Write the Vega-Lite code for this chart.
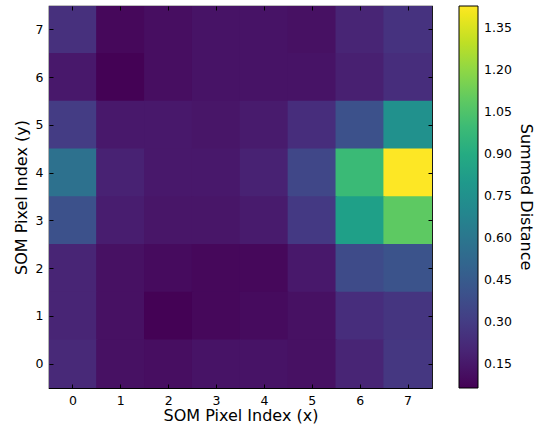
{
  "$schema": "https://vega.github.io/schema/vega-lite/v6.json",
  "autosize": "none",
  "width": 383,
  "height": 382,
  "padding": {"left": 49, "top": 6, "right": 104, "bottom": 41},
  "background": "white",
  "config": {
    "font": "DejaVu Sans",
    "view": {"stroke": "black", "strokeWidth": 1.2},
    "axis": {"labelFont": "DejaVu Sans", "titleFont": "DejaVu Sans", "labelFontSize": 12.5, "titleFontSize": 16, "titleFontWeight": "normal", "labelColor": "black", "titleColor": "black", "tickColor": "black", "domain": false, "grid": false, "tickSize": -4, "labelPadding": 10}
  },
  "data": {"values": [
    {"x": 0, "y": 7, "v": 0.25}, {"x": 1, "y": 7, "v": 0.09}, {"x": 2, "y": 7, "v": 0.11}, {"x": 3, "y": 7, "v": 0.13}, {"x": 4, "y": 7, "v": 0.13}, {"x": 5, "y": 7, "v": 0.12}, {"x": 6, "y": 7, "v": 0.2}, {"x": 7, "y": 7, "v": 0.26},
    {"x": 0, "y": 6, "v": 0.15}, {"x": 1, "y": 6, "v": 0.07}, {"x": 2, "y": 6, "v": 0.11}, {"x": 3, "y": 6, "v": 0.13}, {"x": 4, "y": 6, "v": 0.13}, {"x": 5, "y": 6, "v": 0.13}, {"x": 6, "y": 6, "v": 0.18}, {"x": 7, "y": 6, "v": 0.24},
    {"x": 0, "y": 5, "v": 0.3}, {"x": 1, "y": 5, "v": 0.15}, {"x": 2, "y": 5, "v": 0.15}, {"x": 3, "y": 5, "v": 0.14}, {"x": 4, "y": 5, "v": 0.16}, {"x": 5, "y": 5, "v": 0.24}, {"x": 6, "y": 5, "v": 0.4}, {"x": 7, "y": 5, "v": 0.75},
    {"x": 0, "y": 4, "v": 0.57}, {"x": 1, "y": 4, "v": 0.19}, {"x": 2, "y": 4, "v": 0.15}, {"x": 3, "y": 4, "v": 0.15}, {"x": 4, "y": 4, "v": 0.19}, {"x": 5, "y": 4, "v": 0.35}, {"x": 6, "y": 4, "v": 0.99}, {"x": 7, "y": 4, "v": 1.43},
    {"x": 0, "y": 3, "v": 0.4}, {"x": 1, "y": 3, "v": 0.17}, {"x": 2, "y": 3, "v": 0.14}, {"x": 3, "y": 3, "v": 0.14}, {"x": 4, "y": 3, "v": 0.16}, {"x": 5, "y": 3, "v": 0.29}, {"x": 6, "y": 3, "v": 0.84}, {"x": 7, "y": 3, "v": 1.09},
    {"x": 0, "y": 2, "v": 0.2}, {"x": 1, "y": 2, "v": 0.12}, {"x": 2, "y": 2, "v": 0.1}, {"x": 3, "y": 2, "v": 0.09}, {"x": 4, "y": 2, "v": 0.09}, {"x": 5, "y": 2, "v": 0.15}, {"x": 6, "y": 2, "v": 0.37}, {"x": 7, "y": 2, "v": 0.41},
    {"x": 0, "y": 1, "v": 0.2}, {"x": 1, "y": 1, "v": 0.12}, {"x": 2, "y": 1, "v": 0.07}, {"x": 3, "y": 1, "v": 0.09}, {"x": 4, "y": 1, "v": 0.1}, {"x": 5, "y": 1, "v": 0.12}, {"x": 6, "y": 1, "v": 0.24}, {"x": 7, "y": 1, "v": 0.27},
    {"x": 0, "y": 0, "v": 0.22}, {"x": 1, "y": 0, "v": 0.12}, {"x": 2, "y": 0, "v": 0.11}, {"x": 3, "y": 0, "v": 0.13}, {"x": 4, "y": 0, "v": 0.13}, {"x": 5, "y": 0, "v": 0.12}, {"x": 6, "y": 0, "v": 0.2}, {"x": 7, "y": 0, "v": 0.28}
  ]},
  "layer": [
    {
      "mark": {"type": "rect", "width": {"band": 1.03}, "height": {"band": 1.03}, "clip": true},
      "encoding": {
        "x": {"field": "x", "type": "ordinal", "scale": {"paddingInner": 0, "paddingOuter": 0}, "axis": {"title": "SOM Pixel Index (x)", "labelAngle": 0, "orient": "bottom", "titlePadding": 1}},
        "y": {"field": "y", "type": "ordinal", "sort": "descending", "scale": {"paddingInner": 0, "paddingOuter": 0}, "axis": {"title": "SOM Pixel Index (y)", "orient": "left", "titlePadding": 6}},
        "color": {
          "field": "v", "type": "quantitative",
          "scale": {"scheme": "viridis", "domain": [0.065, 1.43]},
          "legend": {
            "type": "gradient",
            "title": "Summed Distance",
            "titleOrient": "right",
            "titleAnchor": "middle",
            "titleFontSize": 16,
            "titleFontWeight": "normal",
            "titleFont": "DejaVu Sans",
            "titleColor": "black",
            "titlePadding": 14,
            "values": [0.15, 0.3, 0.45, 0.6, 0.75, 0.9, 1.05, 1.2, 1.35],
            "format": ".2f",
            "labelFontSize": 12.5,
            "labelColor": "black",
            "labelFont": "DejaVu Sans",
            "labelOffset": 6,
            "gradientLength": 382,
            "gradientThickness": 19,
            "gradientStrokeColor": "black",
            "gradientStrokeWidth": 1,
            "offset": 26,
            "orient": "right",
            "padding": 0,
            "encode": {"title": {"update": {"angle": {"value": 90}, "align": {"value": "center"}, "baseline": {"value": "middle"}}}}
          }
        }
      }
    },
    {
      "mark": {"type": "rect", "opacity": 0},
      "encoding": {
        "x": {"field": "x", "type": "ordinal", "axis": {"orient": "top", "labels": false, "title": null}},
        "y": {"field": "y", "type": "ordinal", "sort": "descending", "axis": {"orient": "right", "labels": false, "title": null}}
      }
    }
  ],
  "resolve": {"axis": {"x": "independent", "y": "independent"}}
}
